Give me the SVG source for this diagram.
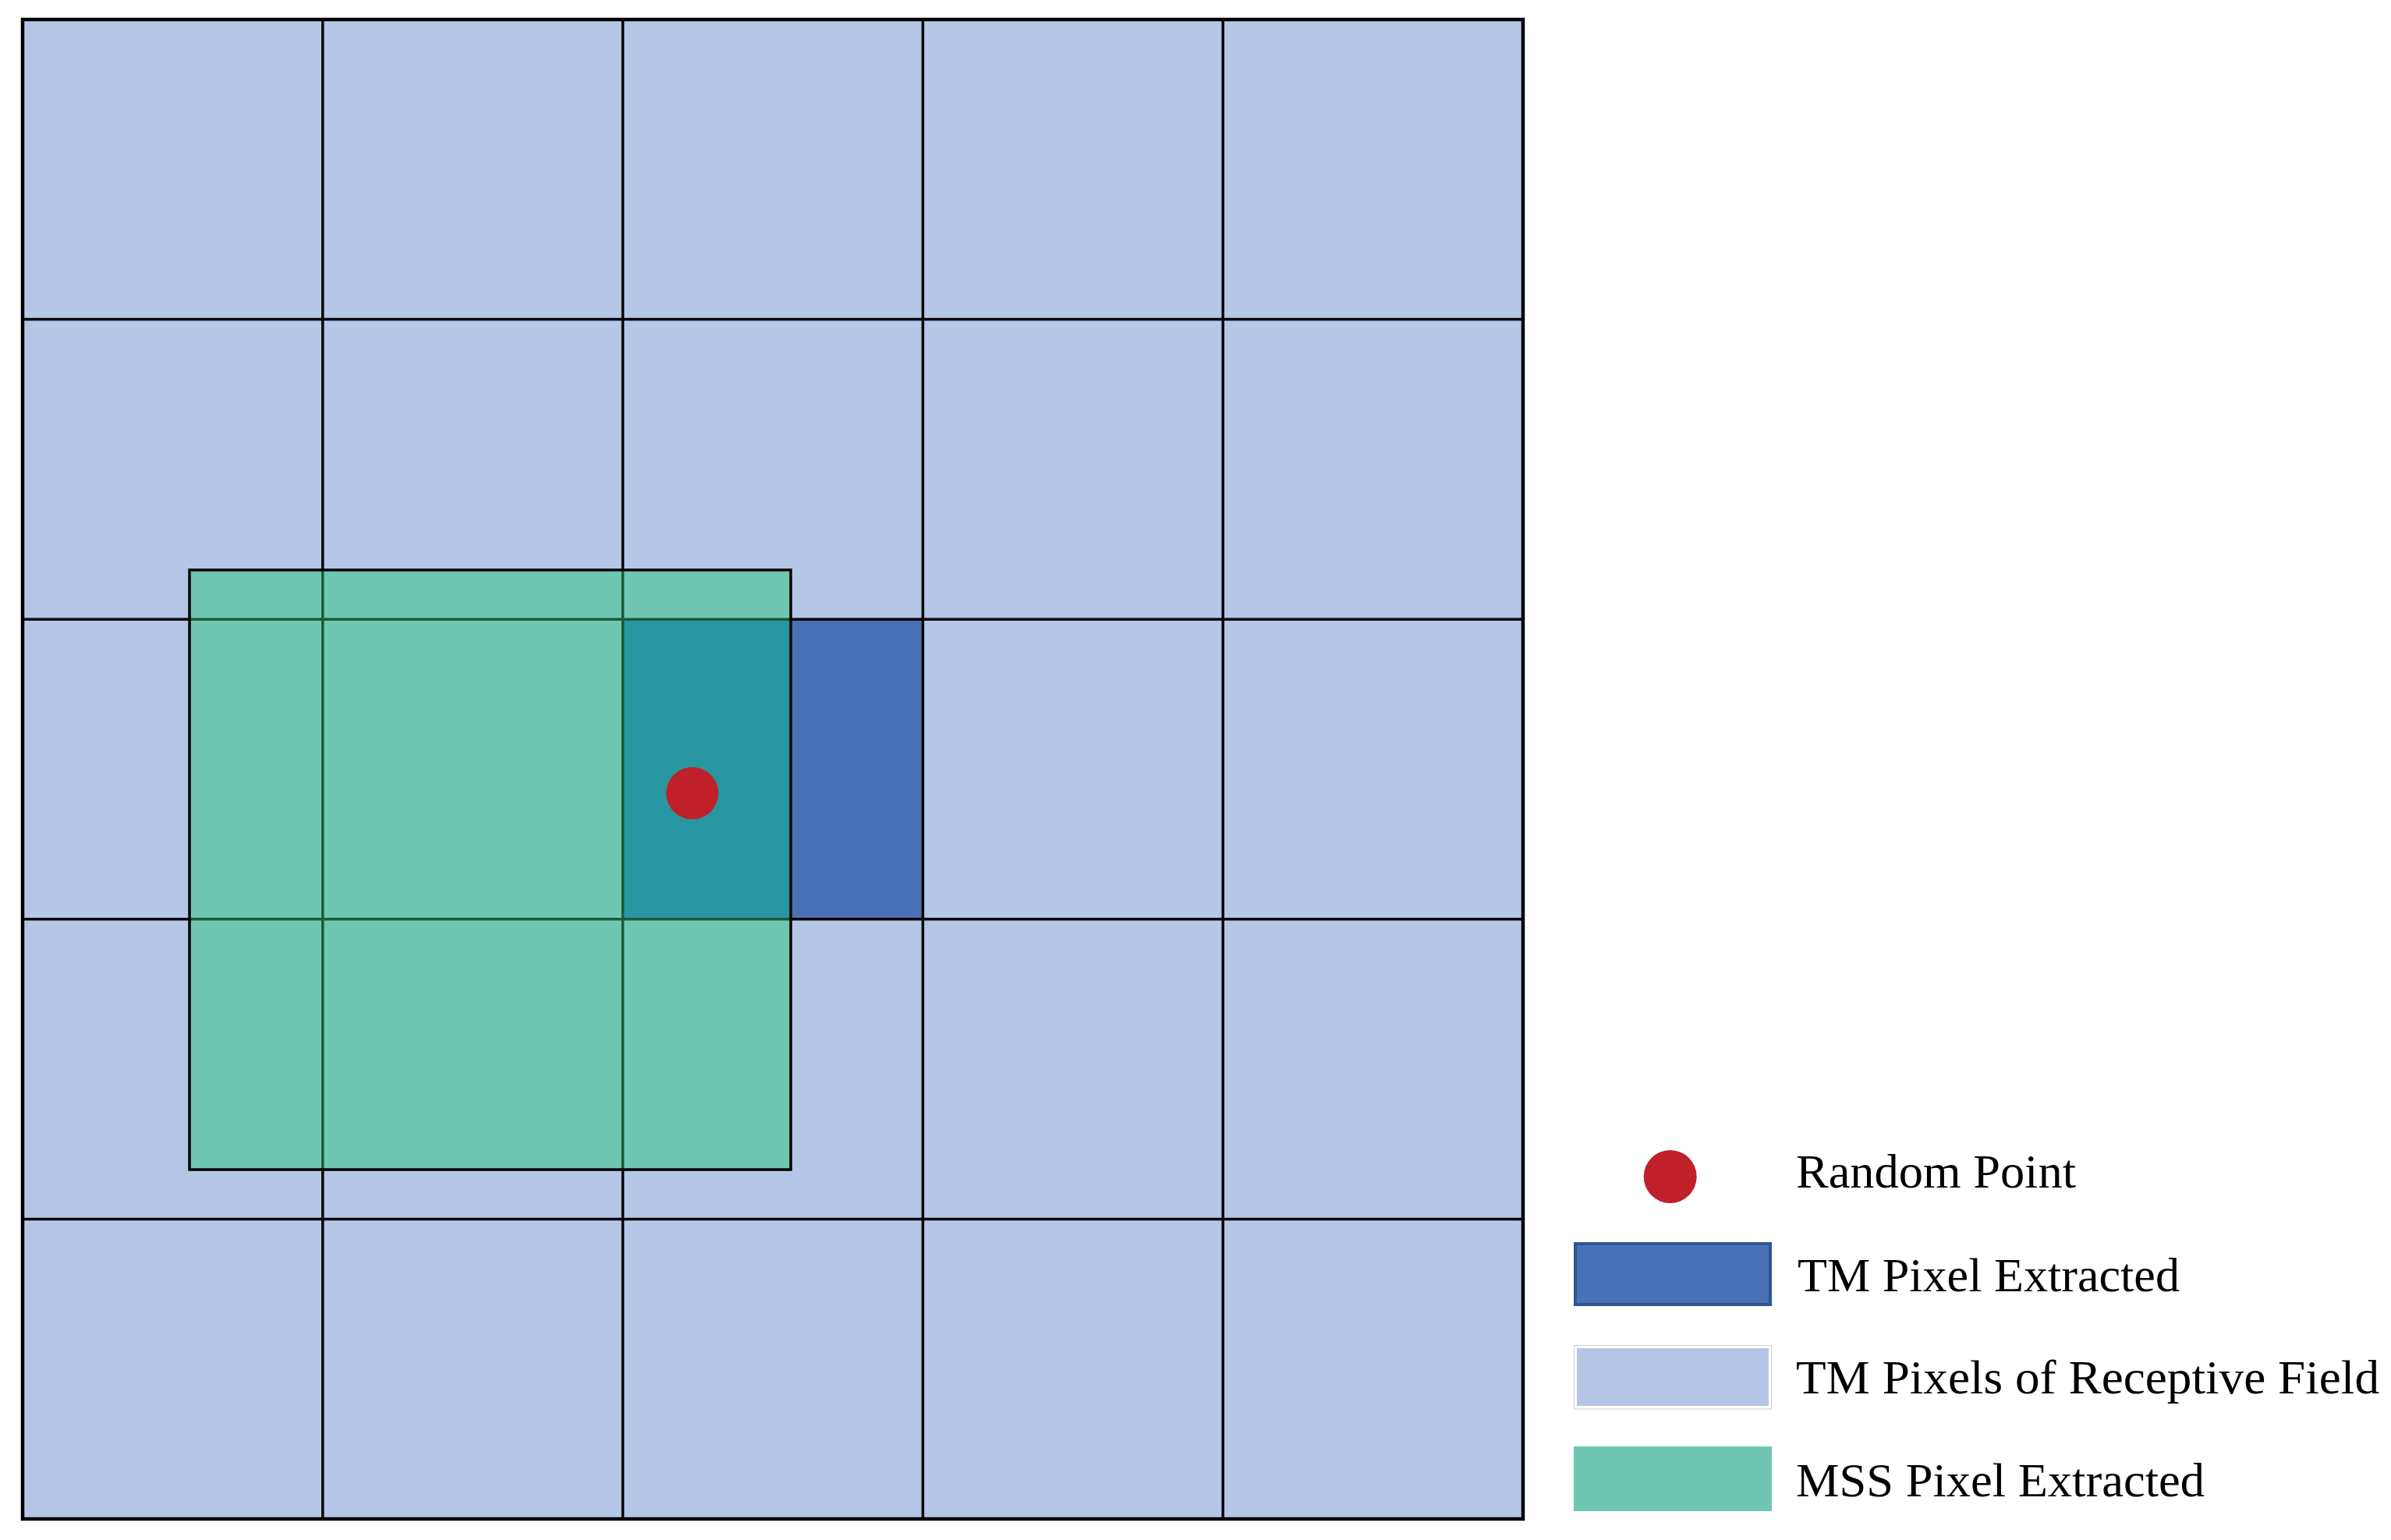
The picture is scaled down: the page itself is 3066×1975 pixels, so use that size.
<svg xmlns="http://www.w3.org/2000/svg" width="3066" height="1975" viewBox="0 0 3066 1975">
<style>
.grid{stroke:#000;stroke-width:3.5;fill:none}
.inner{stroke:#1B5A3A;stroke-width:3.5;fill:none}
.lbl{font-family:"Liberation Serif","Times New Roman",serif;font-size:62px;fill:#000}
</style>
<rect width="3066" height="1975" fill="#fff"/>
<g id="receptive-field">
<rect x="29" y="25" width="1924" height="1923" fill="#B4C7E7"/>
</g>
<g id="tm-pixel-extracted">
<rect x="798.6" y="794.2" width="384.8" height="384.6" fill="#4A71B5"/>
</g>
<g id="grid-lines">
<path class="grid" d="M413.8 25V1948M798.6 25V1948M1183.4 25V1948M1568.2 25V1948M29 409.6H1953M29 794.2H1953M29 1178.8H1953M29 1563.4H1953"/>
</g>
<g id="mss-pixel-extracted">
<rect x="243" y="731" width="771" height="769" fill="#6FC7B1"/>
<rect x="798.6" y="794.2" width="215.4" height="384.6" fill="#2896A0"/>
<path class="inner" d="M413.8 731V1500M798.6 731V1500M243 794.2H1014M243 1178.8H1014"/>
<rect x="243" y="731" width="771" height="769" fill="none" stroke="#000" stroke-width="3.5"/>
</g>
<g id="frame">
<rect x="29" y="25" width="1924" height="1923" fill="none" stroke="#000" stroke-width="4.5"/>
</g>
<g id="random-point">
<circle cx="887.7" cy="1017.3" r="33.5" fill="#C0202A"/>
</g>
<g id="legend">
<g id="legend-random-point">
<circle cx="2141.7" cy="1509" r="34" fill="#C0202A"/>
<text class="lbl" x="2303" y="1523" textLength="359" lengthAdjust="spacingAndGlyphs">Random Point</text>
</g>
<g id="legend-tm-extracted">
<rect x="2020" y="1595" width="250" height="78" fill="#4A71B5" stroke="#2F5597" stroke-width="4"/>
<text class="lbl" x="2305" y="1656" textLength="490" lengthAdjust="spacingAndGlyphs">TM Pixel Extracted</text>
</g>
<g id="legend-tm-field">
<rect x="2018.5" y="1725.5" width="253" height="81.5" fill="none" stroke="#D0D0D0" stroke-width="1"/>
<rect x="2022" y="1729" width="246" height="74" fill="#B4C7E7"/>
<text class="lbl" x="2303" y="1787" textLength="748" lengthAdjust="spacingAndGlyphs">TM Pixels of Receptive Field</text>
</g>
<g id="legend-mss">
<rect x="2018" y="1855" width="254" height="83" fill="#6FC7B1"/>
<text class="lbl" x="2303" y="1919" textLength="524" lengthAdjust="spacingAndGlyphs">MSS Pixel Extracted</text>
</g>
</g>
</svg>
